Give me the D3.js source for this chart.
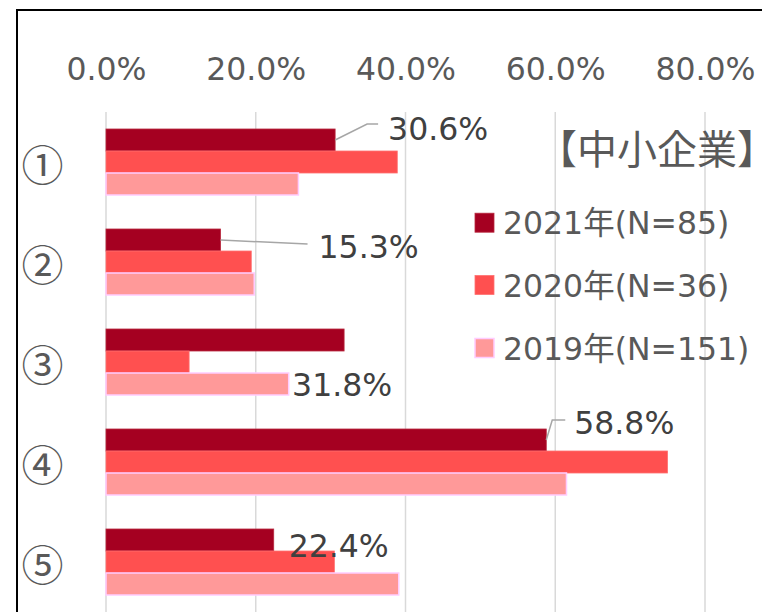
<!DOCTYPE html>
<html>
<head>
<meta charset="utf-8">
<script src="https://cdn.jsdelivr.net/npm/d3@7"></script>
<style>
  html, body { margin: 0; padding: 0; background: #fff; }
  svg { display: block; }
  text { font-family: "DejaVu Sans", "Noto Sans CJK JP", sans-serif; }
  .cjk { font-family: "Noto Sans CJK JP", sans-serif; }
  .title { font-feature-settings: "halt" 1; }
</style>
</head>
<body>
<div id="chart"></div>
<script>
// Survey items (circled numbers) and the three survey years
const categories = ["①", "②", "③", "④", "⑤"];
const seriesNames = ["2021年(N=85)", "2020年(N=36)", "2019年(N=151)"];
const values2021 = [30.6, 15.3, 31.8, 58.8, 22.4];
const values2020 = [38.9, 19.4, 11.1, 75.0, 30.5];
const values2019 = [25.7, 19.8, 24.4, 61.5, 39.1];
const tickValues = [0, 20, 40, 60, 80];
const chartTitle = "【中小企業】";

const seriesValues = [values2021, values2020, values2019];
const seriesColors = ["#A50021", "#FF5050", "#FF9999"];
const seriesStrokes = ["#B8283F", "#FF7070", "#FFCCFF"];

// Data labels (2021 series): offset of the text from the bar end, and leader line shape
const labelLayout = [
  { dx: 53, dy: -12, leader: [[0, 0], [32, -16], [43, -16]] },
  { dx: 98, dy: 6, leader: [[0, 0], [87, 4]] },
  { dx: -52, dy: 44, leader: null },
  { dx: 28, dy: -18, leader: [[0, 0], [6, -20], [19, -20]] },
  { dx: 15, dy: 5, leader: null }
];

const W = 762, H = 612;
const svg = d3.select("#chart").append("svg")
  .attr("width", W).attr("height", H);

// the value axis runs to 100% beyond the right edge of the frame
const x = d3.scaleLinear().domain([0, 100]).range([106, 854.75]);
const y = d3.scaleBand().domain(categories).range([112, 612])
  .paddingInner(0.34).paddingOuter(0.17);
const ySub = d3.scaleBand().domain(d3.range(3)).range([0, y.bandwidth()]);

// chart frame
svg.append("path")
  .attr("d", `M17,${H + 5} L17,10 L${W + 5},10`)
  .attr("fill", "none").attr("stroke", "#000").attr("stroke-width", 2);

// vertical gridlines
svg.append("g").selectAll("line").data(tickValues).join("line")
  .attr("x1", d => x(d)).attr("x2", d => x(d))
  .attr("y1", 112).attr("y2", H)
  .attr("stroke", "#D9D9D9").attr("stroke-width", 1.5);

// top axis labels
const xAxis = d3.axisTop(x).tickValues(tickValues)
  .tickFormat(d => d.toFixed(1) + "%").tickSize(0).tickPadding(0);
const gx = svg.append("g").attr("transform", "translate(0,80)").call(xAxis);
gx.select(".domain").remove();
gx.selectAll("text")
  .attr("dy", 0).attr("y", 0)
  .attr("fill", "#595959").attr("font-size", 31.5)
  .attr("font-family", "DejaVu Sans, Noto Sans CJK JP, sans-serif");

// category labels
svg.append("g").selectAll("text").data(categories).join("text")
  .attr("class", "cjk")
  .attr("x", 42.5).attr("y", d => y(d) + y.bandwidth() / 2)
  .attr("text-anchor", "middle").attr("dominant-baseline", "central")
  .attr("font-size", 42).attr("fill", "#595959")
  .text(d => d);

// bars
seriesValues.forEach((vals, si) => {
  svg.append("g").selectAll("rect").data(vals).join("rect")
    .attr("x", x(0))
    .attr("y", (d, i) => y(categories[i]) + ySub(si))
    .attr("width", d => x(d) - x(0))
    .attr("height", ySub.bandwidth())
    .attr("fill", seriesColors[si])
    .attr("stroke", seriesStrokes[si])
    .attr("stroke-width", si === 2 ? 1.5 : 0.8);
});

// data labels with leader lines
const labelG = svg.append("g");
values2021.forEach((v, i) => {
  const bx = x(v);
  const by = y(categories[i]) + ySub(0) + ySub.bandwidth() / 2;
  const lay = labelLayout[i];
  if (lay.leader) {
    labelG.append("path")
      .attr("d", d3.line()(lay.leader.map(p => [bx + p[0], by + p[1]])))
      .attr("fill", "none").attr("stroke", "#A6A6A6").attr("stroke-width", 1.5);
  }
  labelG.append("text")
    .attr("x", bx + lay.dx).attr("y", by + lay.dy + 11.5)
    .attr("font-size", 31.5).attr("fill", "#404040")
    .text(v.toFixed(1) + "%");
});

// title (half-width brackets)
svg.append("text").attr("class", "cjk title")
  .attr("x", 657).attr("y", 147)
  .attr("text-anchor", "middle").attr("dominant-baseline", "central")
  .attr("font-size", 40).attr("fill", "#595959")
  .text(chartTitle);

// legend
const legendY = [222.7, 285, 348];
const lg = svg.append("g");
seriesNames.forEach((name, si) => {
  lg.append("rect")
    .attr("x", 475).attr("y", legendY[si] - 9.5)
    .attr("width", 19).attr("height", 19)
    .attr("fill", seriesColors[si])
    .attr("stroke", seriesStrokes[si]).attr("stroke-width", si === 2 ? 1.5 : 0.8);
  lg.append("text")
    .attr("x", 503).attr("y", legendY[si] + 11.5)
    .attr("font-size", 31.5).attr("fill", "#595959")
    .text(name);
});
</script>
</body>
</html>
